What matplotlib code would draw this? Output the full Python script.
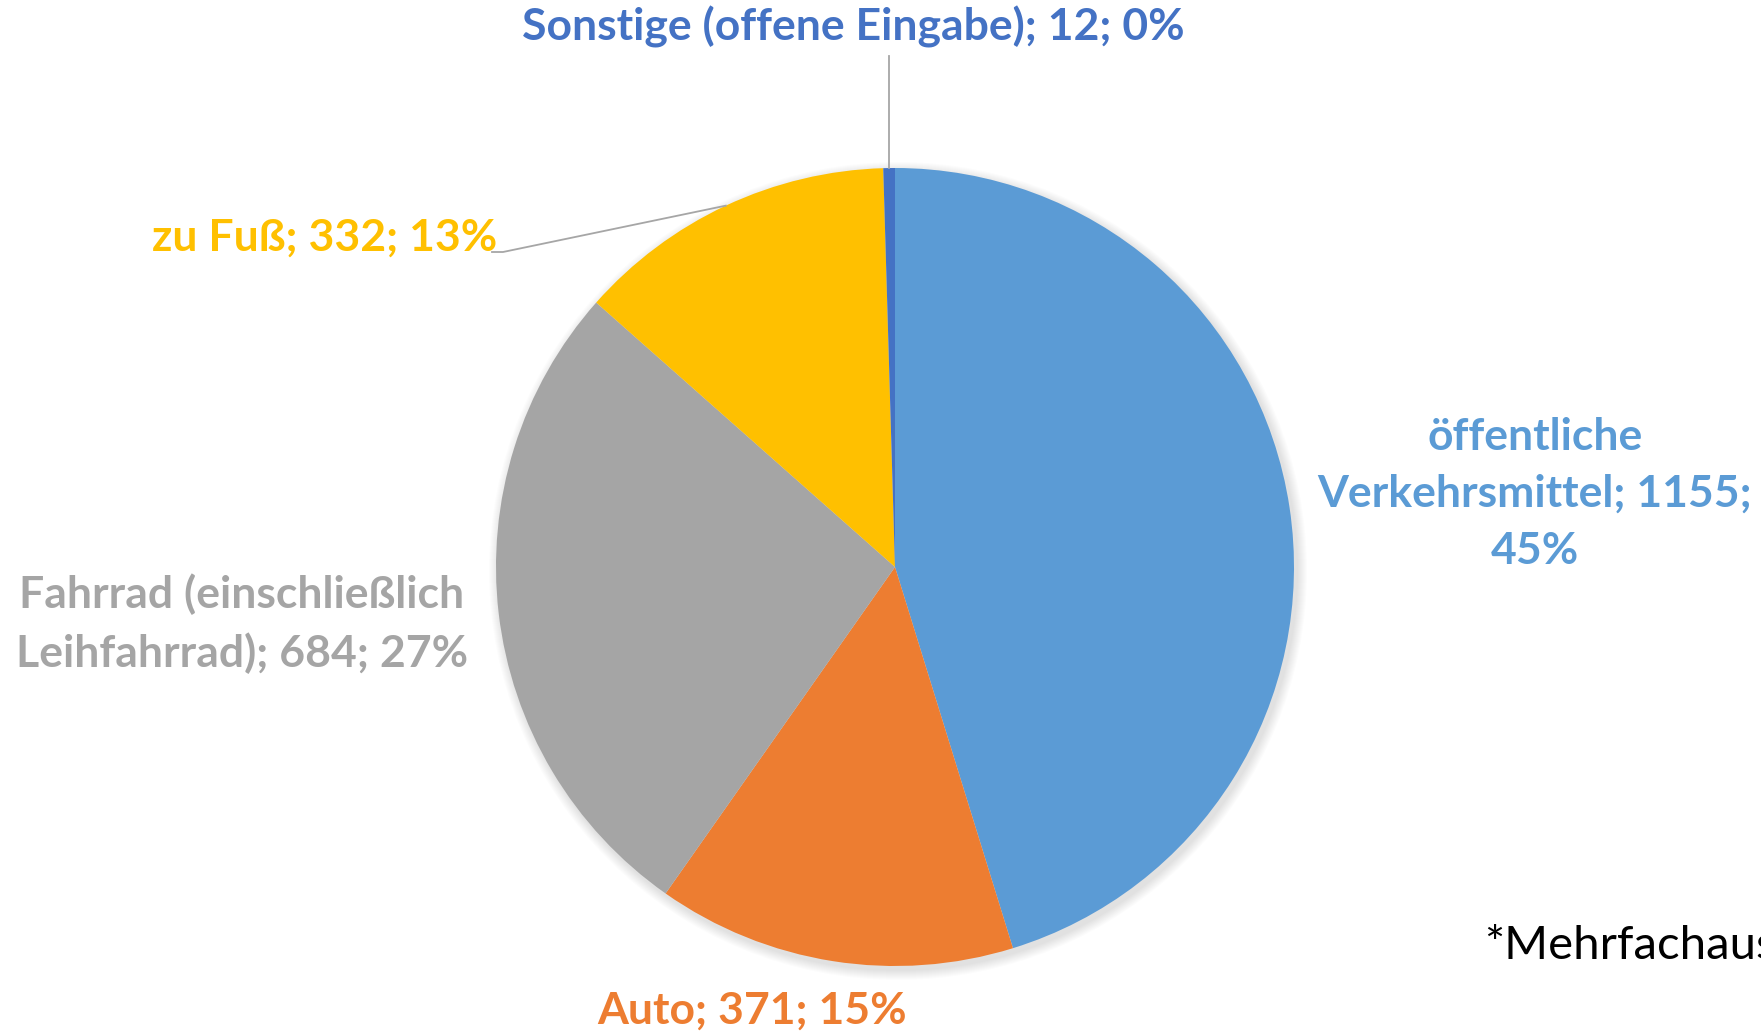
import matplotlib.pyplot as plt
from matplotlib.patches import Circle
import numpy as np

plt.rcParams["font.family"] = ["Lato", "DejaVu Sans"]

labels = ["öffentliche\nVerkehrsmittel; 1155;\n45%", "Auto; 371; 15%",
          "Fahrrad (einschließlich\nLeihfahrrad); 684; 27%", "zu Fuß; 332; 13%",
          "Sonstige (offene Eingabe); 12; 0%"]
values = [1155, 371, 684, 332, 12]
colors = ["#5B9BD5", "#ED7D31", "#A5A5A5", "#FFC000", "#4472C4"]

W, H = 1761, 1034
fig = plt.figure(figsize=(W / 100, H / 100), dpi=100)
ax = fig.add_axes([0, 0, 1, 1])

cx, cy, r = 895, H - 567, 399

# soft shadow like Excel
for k in range(10):
    ax.add_patch(Circle((cx + 3, cy - 4), r + 10 - k, color="black", alpha=0.012, lw=0, zorder=0))

wedges, _ = ax.pie(values, colors=colors, startangle=90, counterclock=False,
                   center=(cx, cy), radius=r, frame=True,
                   wedgeprops=dict(linewidth=0))
ax.set_xlim(0, W)
ax.set_ylim(0, H)
ax.set_aspect("equal")
ax.axis("off")

fs = 32
# label positions (image px, y from top)
pos = [(1535, 494), (752, 1011), (242, 624), (325, 238), (853, 27)]
for lab, (x, y), c in zip(labels, pos, colors):
    ax.text(x, H - y, lab, color=c, fontsize=fs, fontweight="bold",
            ha="center", va="center", multialignment="center", linespacing=1.5)


def edge_point(w):
    a = np.deg2rad((w.theta1 + w.theta2) / 2)
    return cx + r * np.cos(a), cy + r * np.sin(a)


# leader lines
ex, ey = edge_point(wedges[3])
ax.plot([492, 503, ex], [H - 252, H - 252, ey], color="#A6A6A6", lw=1.3)
ex, ey = edge_point(wedges[4])
ax.plot([ex, ex], [ey, H - 56], color="#A6A6A6", lw=1.3)

ax.text(1484, H - 946, "*Mehrfachaus", color="black", fontsize=34,
        ha="left", va="center", clip_on=False)

fig.savefig("out.png", dpi=100)
